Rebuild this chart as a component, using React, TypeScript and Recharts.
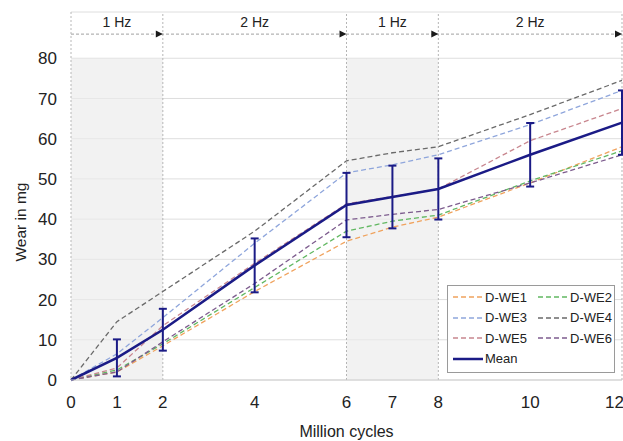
import {
  ComposedChart,
  Line,
  XAxis,
  YAxis,
  CartesianGrid,
  ReferenceArea,
  ReferenceLine,
  ReferenceDot,
  ErrorBar,
  Legend,
  Label,
} from 'recharts'

// million cycles
const cycles = [0, 1, 2, 4, 6, 7, 8, 10, 12]

// wear in mg per specimen
const wearWE1 = [0, 2, 8.5, 22, 34.5, 38, 40.5, 49, 58]
const wearWE2 = [0, 2.5, 9, 23, 37, 39.5, 41, 49.5, 57]
const wearWE3 = [0, 6.5, 15.5, 34, 51.5, 53.5, 56, 63.5, 72]
const wearWE4 = [0, 14.5, 22, 37, 54.5, 56.5, 58, 66, 74.5]
const wearWE5 = [0, 3, 13.5, 29, 43.8, 45.6, 47.5, 59.5, 67.5]
const wearWE6 = [0, 2, 9.5, 24, 39.8, 41.2, 42.4, 49, 56]

const meanWear = [0, 5.5, 12.5, 28.5, 43.5, 45.5, 47.5, 56, 64]
const meanError = [0, 4.6, 5.2, 6.7, 8, 7.8, 7.6, 7.9, 8]

const xTicks = [0, 1, 2, 4, 6, 7, 8, 10, 12]
const yTicks = [0, 10, 20, 30, 40, 50, 60, 70, 80]

const frequencyBlocks = [
  { from: 0, to: 2, label: '1 Hz' },
  { from: 2, to: 6, label: '2 Hz' },
  { from: 6, to: 8, label: '1 Hz' },
  { from: 8, to: 12, label: '2 Hz' },
]

const specimens = [
  { key: 'we1', name: 'D-WE1', values: wearWE1, color: '#f0a35e' },
  { key: 'we2', name: 'D-WE2', values: wearWE2, color: '#62b862' },
  { key: 'we3', name: 'D-WE3', values: wearWE3, color: '#8fa6dc' },
  { key: 'we4', name: 'D-WE4', values: wearWE4, color: '#6a6a6a' },
  { key: 'we5', name: 'D-WE5', values: wearWE5, color: '#c8868e' },
  { key: 'we6', name: 'D-WE6', values: wearWE6, color: '#7d5c8e' },
]

const MEAN_COLOR = '#1b1b86'
const FONT = '"Liberation Sans", Arial, sans-serif'

const data = cycles.map((c, i) => {
  const row: Record<string, number> = { cycles: c, mean: meanWear[i], err: meanError[i] }
  specimens.forEach((s) => {
    row[s.key] = s.values[i]
  })
  return row
})

const LegendBox = () => {
  const items = [
    ...specimens.map((s) => ({ name: s.name, color: s.color, dashed: true })),
    { name: 'Mean', color: MEAN_COLOR, dashed: false },
  ]
  return (
    <div
      style={{
        width: 168,
        border: '1px solid #9a9a9a',
        background: '#fff',
        padding: '1px 0 3px 4px',
        display: 'grid',
        gridTemplateColumns: '85px 80px',
        fontFamily: FONT,
        fontSize: 13,
        color: '#222',
        boxSizing: 'border-box',
      }}
    >
      {items.map((it) => (
        <div key={it.name} style={{ display: 'flex', alignItems: 'center', height: 20.5 }}>
          <svg width={32} height={10} style={{ marginRight: 1 }}>
            <line
              x1={1}
              y1={5}
              x2={31}
              y2={5}
              stroke={it.color}
              strokeWidth={it.dashed ? 1.3 : 2.5}
              strokeDasharray={it.dashed ? '5 3' : undefined}
            />
          </svg>
          <span>{it.name}</span>
        </div>
      ))}
    </div>
  )
}

const App = () => {
  return (
    <div style={{ position: 'absolute', left: 0, top: 0 }}>
      <ComposedChart
        width={623}
        height={441}
        data={data}
        margin={{ top: 12, right: 1, bottom: 0, left: 0 }}
        style={{ fontFamily: FONT }}
      >
        <CartesianGrid vertical={false} stroke="#dedede" />
        {frequencyBlocks
          .filter((b) => b.label === '1 Hz')
          .map((b, i) => (
            <ReferenceArea
              key={`shade-${i}`}
              x1={b.from}
              x2={b.to}
              y1={0}
              y2={80}
              fill="#ebebeb"
              fillOpacity={0.65}
              stroke="none"
            />
          ))}
        <XAxis
          dataKey="cycles"
          type="number"
          domain={[0, 12]}
          ticks={xTicks}
          height={61}
          tickSize={0}
          tickMargin={16}
          axisLine={{ stroke: '#cfcfcf' }}
          tick={{ fontSize: 17, fill: '#222' }}
        >
          <Label value="Million cycles" position="insideBottom" offset={4} style={{ fontSize: 16, fill: '#222' }} />
        </XAxis>
        <YAxis
          type="number"
          domain={[0, 91.5]}
          ticks={yTicks}
          width={71}
          tickSize={0}
          tickMargin={14}
          axisLine={{ stroke: '#b8b8b8', strokeDasharray: '2 2' }}
          tick={{ fontSize: 17, fill: '#222' }}
        >
          <Label
            content={() => (
              <text
                x={20}
                y={222}
                transform="rotate(-90 20 222)"
                textAnchor="middle"
                dominantBaseline="central"
                style={{ fontSize: 15.5, fill: '#222', fontFamily: FONT }}
              >
                Wear in mg
              </text>
            )}
          />
        </YAxis>
        {frequencyBlocks.map((b, i) => (
          <ReferenceLine key={`vline-${i}`} x={b.to} stroke="#b5b5b5" strokeDasharray="2 2" />
        ))}
        <ReferenceLine y={86} stroke="#a0a0a0" strokeDasharray="3 2" />
        {frequencyBlocks.map((b, i) => (
          <ReferenceDot
            key={`arrow-${i}`}
            x={b.to}
            y={86}
            shape={(p: any) => (
              <path d={`M${p.cx},${p.cy} L${p.cx - 7},${p.cy - 3.5} L${p.cx - 7},${p.cy + 3.5} Z`} fill="#1a1a1a" />
            )}
          />
        ))}
        {frequencyBlocks.map((b, i) => (
          <ReferenceDot
            key={`hz-${i}`}
            x={(b.from + b.to) / 2}
            y={89}
            shape={(p: any) => (
              <text
                x={p.cx}
                y={p.cy}
                textAnchor="middle"
                dominantBaseline="central"
                style={{ fontSize: 14, fill: '#222', fontFamily: FONT }}
              >
                {b.label}
              </text>
            )}
          />
        ))}
        {specimens.map((s) => (
          <Line
            key={s.key}
            dataKey={s.key}
            name={s.name}
            stroke={s.color}
            strokeWidth={1.3}
            strokeDasharray="5 3"
            dot={false}
            isAnimationActive={false}
            type="linear"
          />
        ))}
        <Line
          dataKey="mean"
          name="Mean"
          stroke={MEAN_COLOR}
          strokeWidth={2.5}
          dot={false}
          isAnimationActive={false}
          type="linear"
        >
          <ErrorBar dataKey="err" direction="y" width={4} stroke={MEAN_COLOR} strokeWidth={2} isAnimationActive={false} />
        </Line>
        <Legend
          layout="horizontal"
          verticalAlign="middle"
          align="center"
          content={() => <LegendBox />}
          wrapperStyle={{ left: 447, top: 285, width: 168, height: 86 }}
        />
      </ComposedChart>
    </div>
  )
}

export default App
